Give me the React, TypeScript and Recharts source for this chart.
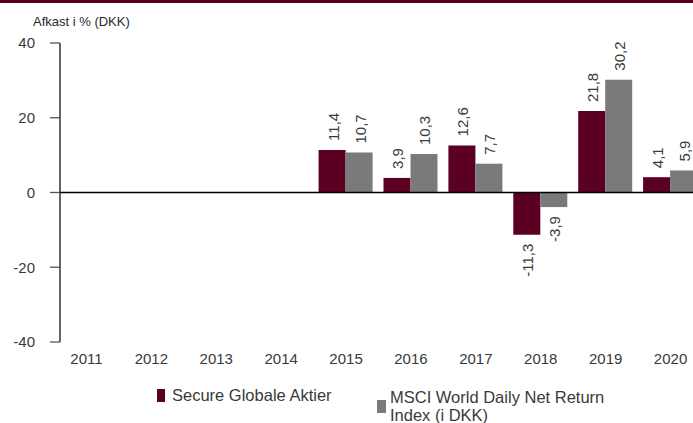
import { Bar, BarChart, ReferenceLine, XAxis, YAxis, LabelList } from 'recharts'

const years = ['2011', '2012', '2013', '2014', '2015', '2016', '2017', '2018', '2019', '2020']
const secure = [null, null, null, null, 11.4, 3.9, 12.6, -11.3, 21.8, 4.1]
const msci = [null, null, null, null, 10.7, 10.3, 7.7, -3.9, 30.2, 5.9]
const yTicks = [-40, -20, 0, 20, 40]

const seriesNames = ['Secure Globale Aktier', 'MSCI World Daily Net Return Index (i DKK)']
const colors = ['#5b0022', '#7a7a7a']

const data = years.map((year, i) => ({ year, secure: secure[i], msci: msci[i] }))

const font = '"Liberation Sans", Arial, sans-serif'

const fmt = (v: number) => String(v).replace('.', ',')

function BarValue(props: any) {
  const { x, y, width, height, value } = props
  if (value === null || value === undefined) return null
  const top = Math.min(y, y + height)
  const bottom = Math.max(y, y + height)
  const cx = x + width / 2 + 1
  const neg = value < 0
  const ty = neg ? bottom + 9 : top - 9
  return (
    <text
      x={cx}
      y={ty}
      transform={`rotate(-90 ${cx} ${ty})`}
      textAnchor={neg ? 'end' : 'start'}
      dominantBaseline="central"
      fontSize={15}
      fill="#3a3a3a"
      fontFamily={font}
    >
      {fmt(value)}
    </text>
  )
}

export default function App() {
  return (
    <div
      style={{
        position: 'absolute',
        left: 0,
        top: 0,
        width: 693,
        height: 423,
        overflow: 'hidden',
        background: '#fff',
        fontFamily: font,
      }}
    >
      <div style={{ position: 'absolute', left: 0, top: 0, width: 693, height: 2.5, background: '#5b0022' }} />
      <div style={{ position: 'absolute', left: 33, top: 13.5, fontSize: 13, color: '#2a2a2a' }}>Afkast i % (DKK)</div>
      <BarChart
        width={703}
        height={423}
        data={data}
        margin={{ top: 43, right: 0, bottom: 51, left: 0 }}
        barSize={27}
        barGap={0}
      >
        <XAxis
          dataKey="year"
          axisLine={false}
          tickLine={false}
          tickSize={0}
          tickMargin={11}
          padding={{ left: -6, right: 0 }}
          tick={{ fontSize: 15, fill: '#3a3a3a', fontFamily: font }}
          interval={0}
        />
        <YAxis
          width={60}
          domain={[-40, 40]}
          ticks={yTicks}
          axisLine={{ stroke: '#111', strokeWidth: 1.3 }}
          tickLine={{ stroke: '#555', strokeWidth: 1.3 }}
          tickSize={10}
          tickMargin={15}
          tick={{ fontSize: 15, fill: '#3a3a3a', fontFamily: font }}
        />
        <ReferenceLine y={0} stroke="#000" strokeWidth={1.3} />
        <Bar dataKey="secure" fill={colors[0]} isAnimationActive={false}>
          <LabelList dataKey="secure" content={BarValue} />
        </Bar>
        <Bar dataKey="msci" fill={colors[1]} isAnimationActive={false}>
          <LabelList dataKey="msci" content={BarValue} />
        </Bar>
      </BarChart>
      <div style={{ position: 'absolute', left: 157, top: 387.3, display: 'flex', alignItems: 'flex-start', fontSize: 16.5, color: '#3a3a3a', lineHeight: '17.5px' }}>
        <span style={{ width: 8, height: 13, background: colors[0], marginTop: 2, marginRight: 7, flex: 'none' }} />
        <span>{seriesNames[0]}</span>
      </div>
      <div style={{ position: 'absolute', left: 377, top: 389, display: 'flex', alignItems: 'flex-start', fontSize: 16.5, color: '#3a3a3a', lineHeight: '17.5px' }}>
        <span style={{ width: 9, height: 13, background: colors[1], marginTop: 11, marginRight: 4, flex: 'none' }} />
        <span style={{ width: 250 }}>
          {'MSCI World Daily Net Return'}
          <br />
          {'Index (i DKK)'}
        </span>
      </div>
    </div>
  )
}
